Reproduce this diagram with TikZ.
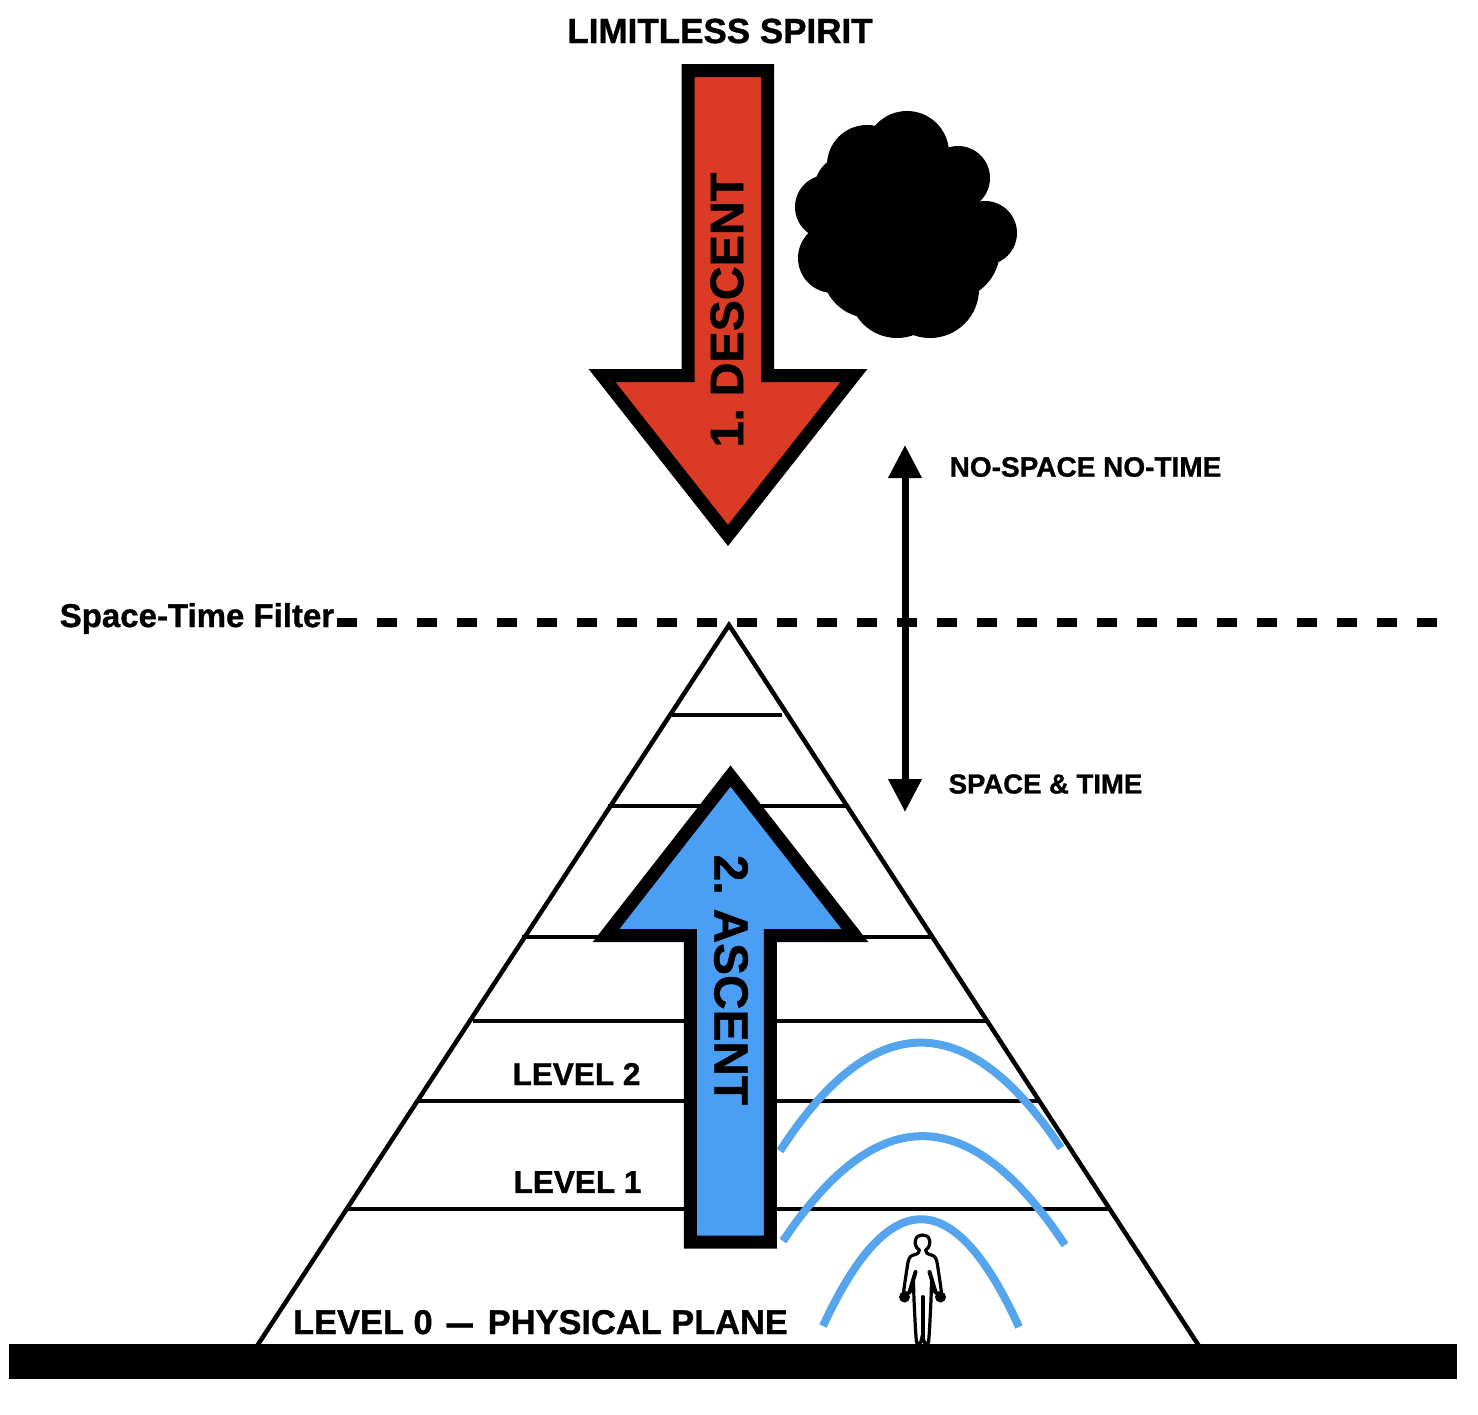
\documentclass[tikz,border=0pt]{standalone}
\usepackage{fontspec}
\setmainfont{Liberation Sans}
\newfontfamily\lblfont[FakeBold=1.0]{Liberation Sans Bold}
\usetikzlibrary{arrows.meta}
\definecolor{redfill}{HTML}{DB3A24}
\definecolor{bluefill}{HTML}{4A9FF5}
\definecolor{arcblue}{HTML}{55A5EE}
\newcommand{\fsz}[1]{\lblfont\fontsize{#1}{#1}\selectfont}
\tikzset{
  bigarrow/.style={draw=black,line width=13pt,miter limit=10,line join=miter},
  tier/.style={draw=black,line width=4.2pt},
  glow/.style={draw=arcblue,line width=8pt},
  lab/.style={inner sep=0pt,anchor=center,text=black},
  puff/.style={fill=black,draw=none},
  bodyline/.style={draw=black,line width=3.2pt,line join=round,line cap=round}
}
\begin{document}
\begin{tikzpicture}[x=1pt,y=-1pt]
\useasboundingbox (0,0) rectangle (1478,1414);
\fill[white] (0,0) rectangle (1478,1414);
% pyramid
\coordinate (apex) at (729,625);
\coordinate (bl) at (257,1346);
\coordinate (br) at (1199,1346);
\draw[black,line width=4.5pt,line join=miter] (bl) -- (apex) -- (br);
\draw[tier] (672,715) -- (782,715);
\draw[tier] (608,806) -- (849,806);
\draw[tier] (522,937) -- (934,937);
\draw[tier] (473,1021) -- (987,1021);
\draw[tier] (417,1101) -- (1040,1101);
\draw[tier] (347,1209) -- (1110,1209);
% ground
\fill[black] (9,1344) rectangle (1457,1379);
% filter
\coordinate (fa) at (337,622.5);
\coordinate (fb) at (1437,622.5);
\draw[black,line width=9pt,dash pattern=on 20pt off 20pt] (fa) -- (fb);
% double arrow
\coordinate (ua) at (905,445);
\coordinate (ub) at (905,812);
\draw[black,line width=7pt,{Triangle[length=33pt,width=32pt]}-{Triangle[length=33pt,width=32pt]}] (ua) -- (ub);
% descent arrow
\draw[bigarrow,fill=redfill] (688,70.5) -- (767.7,70.5) -- (767.7,375.5) -- (854,375.5) -- (728,535.5) -- (602,375.5) -- (688,375.5) -- cycle;
% ascent arrow
\draw[bigarrow,fill=bluefill] (690.3,1242) -- (770.3,1242) -- (770.3,935.5) -- (855,935.5) -- (730.5,776) -- (606,935.5) -- (690.3,935.5) -- cycle;
% cloud
\foreach \cx/\cy/\r in {907/153/42,867/165/40,827/207/32,833/258/35,958/178/32,985/233/32,897/290/48,930/289/49,903/223/75,860/277/35,950/250/50,850/190/36,925/262/60,870/270/48}
  \fill[puff] (\cx,\cy) circle[radius=\r];
% arcs
\draw[glow] (780,1151) .. controls (873,1007) and (967,1007) .. (1061,1148);
\draw[glow] (783,1241) .. controls (877,1100) and (970,1101) .. (1065,1245);
\draw[glow] (823,1326) .. controls (889,1183) and (954,1184) .. (1019,1327);
% figure
\begin{scope}[shift={(922.5,0)}]
\draw[bodyline,fill=white] (-3,1250) .. controls (-3,1253) and (-5,1254) .. (-9,1255)
 .. controls (-13,1256) and (-14,1259) .. (-15,1265)
 -- (-18,1285) -- (-19,1293)
 -- (-13,1293)
 -- (-9,1282) -- (-8.5,1300) -- (-7,1330) -- (-6,1343)
 -- (-2,1343) -- (0,1335) -- (2,1343) -- (6,1343)
 -- (7,1330) -- (8.5,1300) -- (9,1282) -- (13,1293)
 -- (19,1293) -- (18,1285) -- (15,1265)
 .. controls (14,1259) and (13,1256) .. (9,1255)
 .. controls (5,1254) and (3,1253) .. (3,1250)
 .. controls (7,1248) and (8,1243) .. (7,1240)
 .. controls (6,1236) and (3,1235) .. (0,1235)
 .. controls (-3,1235) and (-6,1236) .. (-7,1240)
 .. controls (-8,1243) and (-7,1248) .. (-3,1250) -- cycle;
\fill[black] (-18,1297) circle[radius=5.5];
\fill[black] (18,1297) circle[radius=5.5];
\draw[bodyline,line width=4pt] (-7,1272) -- (-13,1292);
\draw[bodyline,line width=4pt] (7,1272) -- (13,1292);
\draw[bodyline,line width=4pt] (0,1297) -- (0,1340);
\end{scope}
% labels
\node[lab] (t1) at (720,31) {\fsz{35}LIMITLESS SPIRIT};
\node[lab,rotate=90] (t2) at (727,310) {\fsz{46.8}1.\hspace{12pt}DESCENT};
\node[lab] (t3) at (1085.5,467) {\fsz{28}NO-SPACE NO-TIME};
\node[lab] (t4) at (1045.5,784) {\fsz{27.5}SPACE \& TIME};
\node[lab] (t5) at (197,618.5) {\fsz{33}Space-Time Filter};
\node[lab,rotate=-90] (t6) at (731,980) {\fsz{47.8}2.\hspace{14pt}ASCENT};
\node[lab] (t7) at (576.5,1074) {\fsz{31.5}LEVEL 2};
\node[lab] (t8) at (577.5,1182) {\fsz{31.5}LEVEL 1};
\node[lab] (t9) at (540.5,1323) {\fsz{34.4}LEVEL 0\hspace{14pt}\raisebox{-2pt}{\scalebox{0.76}[1.15]{—}}\hspace{15pt}PHYSICAL PLANE};
\end{tikzpicture}
\end{document}
